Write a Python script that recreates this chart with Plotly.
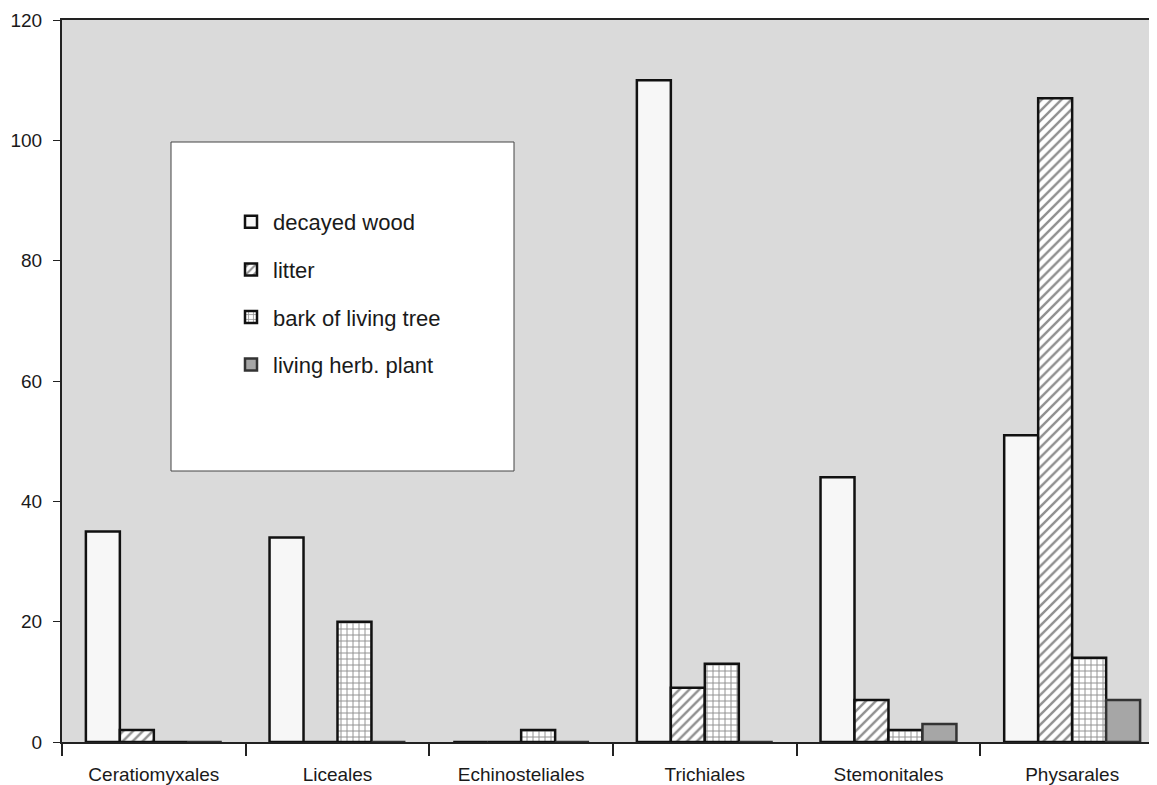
import plotly.graph_objects as go

orders = ["Ceratiomyxales", "Liceales", "Echinosteliales", "Trichiales", "Stemonitales", "Physarales"]
decayed_wood = [35, 34, 0, 110, 44, 51]
litter = [2, 0, 0, 9, 7, 107]
bark_living_tree = [0, 20, 2, 13, 2, 14]
living_herb_plant = [0, 0, 0, 0, 3, 7]
y_ticks = [0, 20, 40, 60, 80, 100, 120]

FONT = "Liberation Sans, Arial, Helvetica, sans-serif"

# page body has an 8px margin; figure sized so plot area lands where the reference has it
W, H = 1149, 777
L, T, B, R = 54, 12, 43, 0
PW, PH = W - L - R, H - T - B


def px_x(x):  # page pixel -> paper x
    return (x - 8 - L) / PW


def px_y(y):  # page pixel -> paper y
    return (H - B - (y - 8)) / PH


fig = go.Figure()
series = [
    ("decayed wood", decayed_wood, dict(color="#f7f7f7", line=dict(color="#111", width=2.5))),
    ("litter", litter, dict(color="#ffffff", line=dict(color="#111", width=2.5),
                            pattern=dict(shape="/", fgcolor="#222", bgcolor="#ffffff", size=7, solidity=0.35))),
    ("bark of living tree", bark_living_tree, dict(color="#ffffff", line=dict(color="#111", width=2.5),
                                                   pattern=dict(shape="+", fgcolor="#222", bgcolor="#ffffff", size=6, solidity=0.3))),
    ("living herb. plant", living_herb_plant, dict(color="#a6a6a6", line=dict(color="#333", width=2.5))),
]
for i, (name, vals, marker) in enumerate(series):
    fig.add_trace(go.Bar(x=orders, y=vals, name=name, marker=marker, legendgroup=f"g{i}"))

# legend box
fig.add_shape(type="rect", xref="paper", yref="paper",
              x0=px_x(171), x1=px_x(514), y0=px_y(471), y1=px_y(142),
              fillcolor="white", line=dict(color="#444", width=1), layer="above")

fig.update_layout(
    width=W, height=H,
    margin=dict(l=L, r=R, t=T, b=B),
    paper_bgcolor="white",
    plot_bgcolor="#dadada",
    barmode="group", bargap=0.26, bargroupgap=0,
    font=dict(family=FONT, color="#1a1a1a"),
    showlegend=True,
    legend=dict(x=px_x(229), y=px_y(201), xanchor="left", yanchor="top",
                bgcolor="rgba(0,0,0,0)", borderwidth=0, font=dict(size=22, family=FONT),
                tracegroupgap=16, traceorder="grouped", itemwidth=34),
    xaxis=dict(type="category", range=[-0.5, 5.462], tickson="boundaries",
               ticks="outside", ticklen=12, tickwidth=2, tickcolor="#222",
               showline=True, linecolor="#222", linewidth=2, mirror=True,
               showgrid=False, automargin=False, ticklabelstandoff=14,
               tickfont=dict(size=19, family=FONT)),
    yaxis=dict(range=[0, 120], tickvals=y_ticks, ticks="outside", ticklen=7, tickwidth=1,
               tickcolor="#222", showline=True, linecolor="#222", linewidth=2,
               showgrid=False, zeroline=False, automargin=False, ticklabelstandoff=7,
               tickfont=dict(size=19, family=FONT)),
)

fig.write_html("out.html")
